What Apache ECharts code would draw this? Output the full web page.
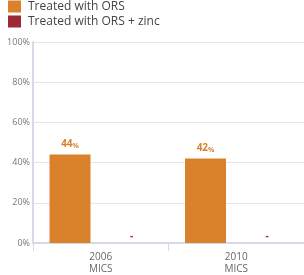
<!DOCTYPE html>
<html><head><meta charset="utf-8">
<style>html,body{margin:0;padding:0;background:#fff}#c{width:304px;height:275px}</style>
<script src="https://cdn.jsdelivr.net/npm/echarts@6/dist/echarts.min.js"></script>
</head><body><div id="c"></div>
<script>
const categories = ['2006\nMICS', '2010\nMICS'];
const orsValues = [44, 42];
const orsZincValues = [0, 0];
const orsZincLabels = ['-', '-'];
const yTicks = [0, 20, 40, 60, 80, 100];
const seriesNames = ['Treated with ORS', 'Treated with ORS + zinc'];

const chart = echarts.init(document.getElementById('c'), null, {renderer: 'canvas'});
chart.setOption({
  animation: false,
  legend: {
    left: 8, top: 0, padding: 0, orient: 'vertical', itemWidth: 13, itemHeight: 12, itemGap: 2,
    icon: 'rect',
    textStyle: {fontFamily: 'Open Sans', fontSize: 12, lineHeight: 13, color: '#444', padding: [0, 0, 0, 2]},
    data: seriesNames
  },
  grid: {left: 33, right: 0, top: 42, bottom: 32, containLabel: false},
  xAxis: {
    type: 'category', data: categories,
    axisLine: {lineStyle: {color: '#d5d9ea', width: 2}},
    axisTick: {show: true, length: 8, lineStyle: {color: '#d5d9ea', width: 1}},
    axisLabel: {fontFamily: 'Open Sans', fontSize: 10, color: '#666', lineHeight: 12, margin: 8}
  },
  yAxis: {
    type: 'value', min: yTicks[0], max: yTicks[yTicks.length - 1], interval: 20,
    axisLine: {show: true, lineStyle: {color: '#d5d9ea', width: 2}},
    axisLabel: {fontFamily: 'Open Sans', fontSize: 9, color: '#777', formatter: '{value}%', margin: 3},
    splitLine: {lineStyle: {color: '#e6e6e6'}}
  },
  series: [
    {
      name: seriesNames[0], type: 'bar', data: orsValues, barWidth: 41, barGap: '50%',
      itemStyle: {color: '#d9822b'},
      label: {
        show: true, position: 'top', distance: 5,
        formatter: p => '{a|' + p.value + '}{b|%}',
        rich: {
          a: {fontFamily: 'Open Sans', fontSize: 10, fontWeight: 'bold', color: '#d9822b'},
          b: {fontFamily: 'Open Sans', fontSize: 7, fontWeight: 'bold', color: '#d9822b', padding: [2, 0, 0, 0]}
        }
      }
    },
    {
      name: seriesNames[1], type: 'bar', data: orsZincValues, barWidth: 41,
      itemStyle: {color: '#9b2a36'},
      label: {
        show: true, position: 'top', distance: 2,
        formatter: p => orsZincLabels[p.dataIndex],
        fontFamily: 'Open Sans', fontSize: 10, fontWeight: 'bold', color: '#9b2a36'
      }
    }
  ]
});
</script></body></html>
